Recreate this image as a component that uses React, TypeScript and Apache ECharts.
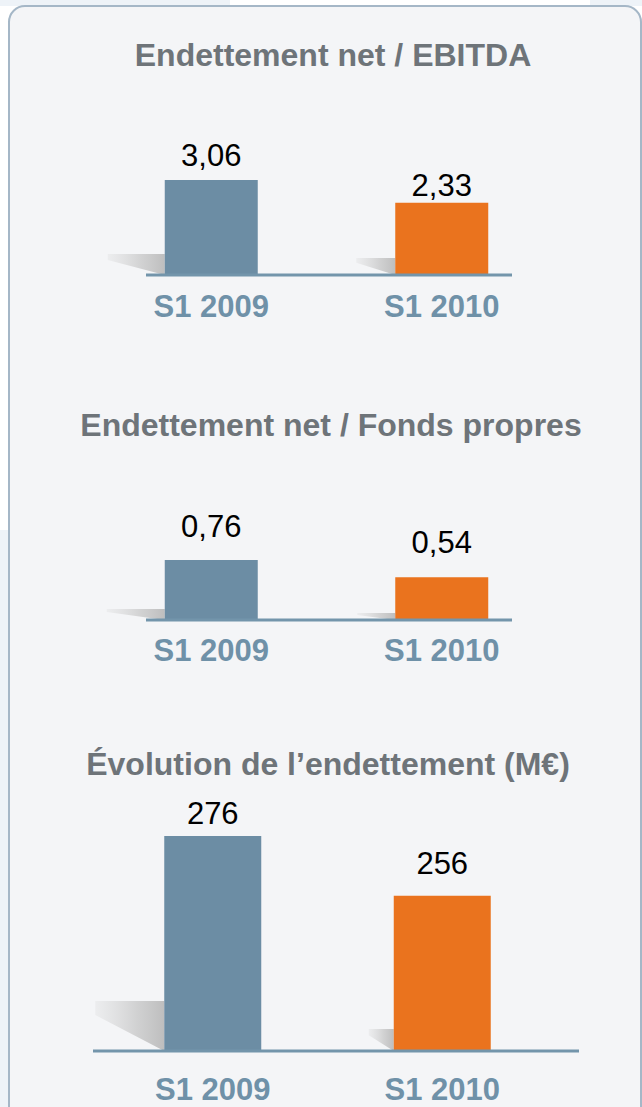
import React, { useEffect, useRef } from "react";
import * as echarts from "echarts";

const CATEGORIES = ["S1 2009", "S1 2010"];
const TITLES = [
  "Endettement net / EBITDA",
  "Endettement net / Fonds propres",
  "Évolution de l’endettement (M€)",
];
const EBITDA_RATIO = [3.06, 2.33];
const GEARING_RATIO = [0.76, 0.54];
const NET_DEBT = [276, 256];

const FONT = "'Liberation Sans', Arial, Helvetica, sans-serif";
const BAR_COLORS = ["#6c8da4", "#ea731e"];
const TITLE_COLOR = "#6e7479";
const CAT_COLOR = "#6f91a8";
const AXIS_COLOR = "#7395ab";

// layout / style per panel
const PANELS = [
  { left: 96, width: 461, top: 180, height: 95, min: 0, max: 3.06, barWidth: 93, titleTop: 39, titleX: 333, labelMargin: 16, valueDist: [9, 2], lineFrom: 146, lineTo: 512, shadow: [[57, 21], [39, 17]], decimals: 2 },
  { left: 96, width: 461, top: 560, height: 60, min: 0, max: 0.76, barWidth: 93, titleTop: 409, titleX: 331, labelMargin: 15, valueDist: [18, 19], lineFrom: 146, lineTo: 512, shadow: [[58, 11], [38, 7]], decimals: 2 },
  { left: 98, width: 459, top: 836, height: 215, min: 204, max: 276, barWidth: 97, titleTop: 748, titleX: 328, labelMargin: 23, valueDist: [7, 17], lineFrom: 93, lineTo: 579, shadow: [[69, 50], [25, 22]], decimals: 0 },
];
const VALUES = [EBITDA_RATIO, GEARING_RATIO, NET_DEBT];

export default function App() {
  const ref = useRef<HTMLDivElement>(null);
  useEffect(() => {
    if (!ref.current) return;
    const chart = echarts.init(ref.current, null, { renderer: "svg" });

    const grids: any[] = [];
    const xAxes: any[] = [];
    const yAxes: any[] = [];
    const series: any[] = [];
    const titles: any[] = [];
    const lines: any[] = [];

    PANELS.forEach((p, i) => {
      grids.push({ left: p.left, width: p.width, top: p.top, height: p.height });
      xAxes.push({
        type: "category",
        gridIndex: i,
        data: CATEGORIES,
        axisLine: { show: false },
        axisTick: { show: false },
        axisLabel: {
          margin: p.labelMargin,
          color: CAT_COLOR,
          fontFamily: FONT,
          fontWeight: "bold",
          fontSize: 31,
        },
      });
      yAxes.push({
        type: "value",
        gridIndex: i,
        min: p.min,
        max: p.max,
        show: false,
        splitLine: { show: false },
      });
      titles.push({
        text: TITLES[i],
        left: p.titleX,
        textAlign: "center",
        top: p.titleTop,
        padding: 0,
        textStyle: {
          fontFamily: FONT,
          fontWeight: "bold",
          fontSize: 32,
          color: TITLE_COLOR,
        },
      });
      const vals = VALUES[i];
      // shadow wedges left of bars
      series.push({
        type: "custom",
        xAxisIndex: i,
        yAxisIndex: i,
        z: 1,
        silent: true,
        data: vals.map((v, k) => [k, v]),
        renderItem: (params: any, api: any) => {
          const k = api.value(0);
          const base = api.coord([k, p.min]);
          const L = base[0] - p.barWidth / 2;
          const y0 = base[1];
          const [w, h] = p.shadow[k];
          return {
            type: "polygon",
            shape: {
              points: [
                [L - w, y0 - h],
                [L, y0 - h],
                [L, y0],
                [L - w, y0 - h * 0.72],
              ],
            },
            style: {
              fill: new echarts.graphic.LinearGradient(0, 0, 1, 0, [
                { offset: 0, color: "rgba(205,205,205,0.2)" },
                { offset: 0.6, color: "rgba(190,190,190,0.65)" },
                { offset: 1, color: "rgba(180,180,180,0.85)" },
              ]),
            },
          };
        },
      });
      series.push({
        type: "bar",
        xAxisIndex: i,
        yAxisIndex: i,
        z: 3,
        barWidth: p.barWidth,
        data: vals.map((v, k) => ({
          value: v,
          itemStyle: { color: BAR_COLORS[k] },
          label: { distance: p.valueDist[k] },
        })),
        label: {
          show: true,
          position: "top",
          color: "#000",
          fontFamily: FONT,
          fontSize: 31,
          formatter: (o: any) => Number(o.value).toFixed(p.decimals).replace(".", ","),
        },
      });
      lines.push({
        type: "line",
        z: 10,
        shape: { x1: p.lineFrom, y1: p.top + p.height, x2: p.lineTo, y2: p.top + p.height },
        style: { stroke: AXIS_COLOR, lineWidth: 3 },
      });
    });

    chart.setOption({
      animation: false,
      backgroundColor: "#ffffff",
      title: titles,
      grid: grids,
      xAxis: xAxes,
      yAxis: yAxes,
      series,
      graphic: [
        { type: "rect", z: -10, shape: { x: 0, y: 530, width: 9, height: 577 }, style: { fill: "#eef3f8" } },
        { type: "rect", z: -10, shape: { x: 0, y: 0, width: 230, height: 6 }, style: { fill: "#eef3f8" } },
        { type: "rect", z: -10, shape: { x: 590, y: 0, width: 52, height: 6 }, style: { fill: "#eef3f8" } },
        {
          type: "rect",
          z: -9,
          shape: { x: 9, y: 6, width: 632, height: 1130, r: 16 },
          style: { fill: "#f4f5f7", stroke: "#a5b7c7", lineWidth: 2 },
        },
        ...lines,
      ],
    });
    return () => chart.dispose();
  }, []);
  return (
    <div
      ref={ref}
      style={{ position: "absolute", left: 0, top: 0, width: 642, height: 1107 }}
    />
  );
}
